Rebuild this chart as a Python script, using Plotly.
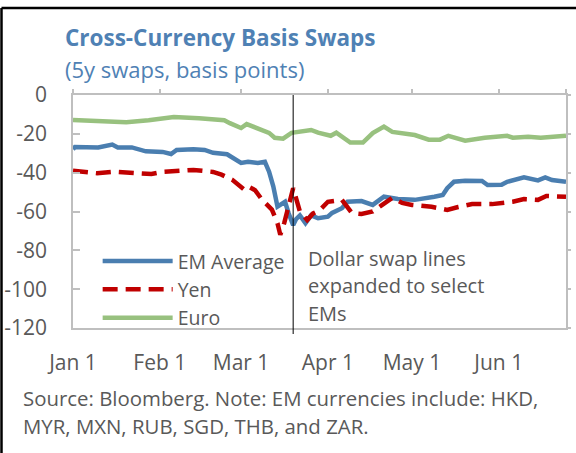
import plotly.graph_objects as go
import pandas as pd

# ---- data (days since 2020-01-01, basis points) ----
START = "2020-01-01"

em_day = [0, 0.7, 9, 14, 16, 21, 26, 32, 35, 37, 43, 47, 50, 55, 60, 62.5, 66, 68.5, 70, 71.5,
          73, 74.6, 75.7, 77, 78.6, 79.6, 81, 83, 85, 87.5, 91, 92.5, 96, 98, 103, 107, 111,
          116, 122, 129, 132, 133.6, 136, 140, 146, 148, 153, 155, 161, 166, 168.6, 171, 176]
em_val = [-28, -26.8, -27, -25.5, -27, -27, -29, -29.3, -30.4, -28.3, -28, -28.3, -29.8, -30.5,
          -35, -34.4, -35, -34.4, -39.5, -47, -57.5, -55.8, -55, -61, -67, -64, -62, -66, -62,
          -63.5, -62.7, -60.7, -58.3, -55, -54.6, -56.6, -52.4, -53.6, -54, -52.4, -51.5, -48,
          -44.7, -44.2, -44.3, -46.4, -46.2, -44.7, -42.4, -44, -42.4, -43.8, -44.7]

yen_day = [0, 4, 8.6, 15, 23, 28, 32, 37.5, 43, 50, 53, 57, 60, 61.4, 63, 65, 67.5, 69.6, 71,
           73, 74, 75.4, 76.8, 78.6, 79.6, 81, 83.6, 85.7, 88, 91, 96, 98, 99.6, 103, 107, 110,
           114, 117.5, 121, 128, 133.6, 137.5, 142.5, 149.6, 153, 157, 161, 166, 169, 176]
yen_val = [-39, -39.5, -40.3, -39.5, -40, -40.7, -39.6, -39, -38.6, -39.6, -41, -43.8, -47, -49,
           -47.5, -49, -54, -56.6, -59, -66, -72, -66, -57.6, -48, -53, -60, -64.4, -61, -59.4,
           -55, -54, -57.6, -60.8, -61.3, -60, -57, -53, -55.6, -56.6, -57.6, -59.2, -57.7,
           -56.2, -56.2, -55.6, -55, -53.6, -54, -52, -52.4]

euro_day = [0, 9, 19, 27, 36, 45, 54, 56, 60, 62, 67, 70, 72, 75, 78, 81, 85, 87.5, 92, 94, 96,
            99, 103.5, 107, 111, 114, 122, 127, 131, 134, 140, 147, 155, 157, 162.5, 167, 176]
euro_val = [-12.9, -13.4, -14, -13, -11.3, -12, -13, -14.5, -17, -15, -18, -19.5, -22, -22.5,
            -19.5, -19, -18, -19.4, -21, -19.4, -21.5, -24.5, -24.5, -19.6, -16.3, -19, -20.6,
            -23, -23, -21, -23.5, -22, -21, -22, -21.5, -22, -21]

month_ticks = ["2020-01-01", "2020-02-01", "2020-03-01", "2020-04-01", "2020-05-01", "2020-06-01"]
month_labels = ["Jan 1", "Feb 1", "Mar 1", "Apr 1", "May 1", "Jun 1"]
y_ticks = [0, -20, -40, -60, -80, -100, -120]
y_labels = ["0", "-20", "-40", "-60", "-80", "-100", "-120"]
range_end_day = 176
swap_line_day = 78.6

title_text = "<b>Cross-Currency Basis Swaps</b>"
subtitle_text = "(5y swaps, basis points)"
note_lines = ["Dollar swap lines", "expanded to select", "EMs"]
source_lines = ["Source: Bloomberg. Note: EM currencies include: HKD,",
                "MYR, MXN, RUB, SGD, THB, and ZAR."]

# ---- helpers ----
start = pd.Timestamp(START)
def to_dates(days):
    return [start + pd.Timedelta(days=d) for d in days]

FONT = "Open Sans"
GRAY = "#595959"
AXIS = "#BFBFBF"
BLUE_T = "#4F81B4"

fig = go.Figure()
fig.add_trace(go.Scatter(x=to_dates(em_day), y=em_val, name="EM Average", mode="lines",
                         line=dict(color="#4A7EB0", width=4.5), legendgroup="a"))
fig.add_trace(go.Scatter(x=to_dates(yen_day), y=yen_val, name="Yen", mode="lines",
                         line=dict(color="#C00000", width=4.5, dash="15px,8px"), legendgroup="b"))
fig.add_trace(go.Scatter(x=to_dates(euro_day), y=euro_val, name="Euro", mode="lines",
                         line=dict(color="#98C17F", width=4.5), legendgroup="c"))
# helper traces for mirrored tick axes
fig.add_trace(go.Scatter(x=[start], y=[None], xaxis="x2", yaxis="y", showlegend=False,
                         hoverinfo="skip"))
fig.add_trace(go.Scatter(x=[start], y=[None], xaxis="x", yaxis="y2", showlegend=False,
                         hoverinfo="skip"))

x_range = [start, start + pd.Timedelta(days=range_end_day)]

fig.update_layout(
    width=576, height=453,
    margin=dict(l=73, r=10, t=95, b=125, autoexpand=False),
    paper_bgcolor="white", plot_bgcolor="white",
    font=dict(family=FONT, color=GRAY, size=20),
    showlegend=True,
    legend=dict(x=0.05, y=0.37, xanchor="left", yanchor="top",
                bgcolor="rgba(0,0,0,0)",
                font=dict(size=19.5, color=GRAY), itemwidth=70, traceorder="grouped",
                tracegroupgap=0),
    xaxis=dict(type="date", range=x_range, tickvals=month_ticks, ticktext=month_labels,
               ticks="", showline=True, linecolor=AXIS, linewidth=1.5, mirror=True,
               showgrid=False, zeroline=False, ticklabelstandoff=15, automargin=False,
               tickfont=dict(size=21, color=GRAY)),
    xaxis2=dict(type="date", overlaying="x", side="top", matches="x", anchor="y",
                tickvals=month_ticks + [x_range[1]], ticks="outside", ticklen=5,
                tickcolor=AXIS, tickwidth=1.5, showticklabels=False, showline=False,
                showgrid=False, zeroline=False, automargin=False),
    yaxis=dict(range=[-120, 0], tickvals=y_ticks, ticktext=y_labels, ticks="inside",
               ticklen=7, tickcolor=AXIS, ticklabeloverflow="allow",
               tickwidth=1.5, showline=True, linecolor=AXIS, linewidth=1.5, mirror=True,
               showgrid=False, zeroline=False, ticklabelstandoff=20, automargin=False,
               tickfont=dict(size=21, color=GRAY)),
    yaxis2=dict(overlaying="y", side="right", matches="y", anchor="x", tickvals=y_ticks,
                ticks="outside", ticklen=4, tickcolor=AXIS, tickwidth=1.5,
                showticklabels=False, showline=False, showgrid=False, zeroline=False,
                automargin=False),
)

def px_x(p):
    return (p - 73) / 493
def px_y(p):
    return (328 - p) / 233

ann = []
ann.append(dict(text=title_text, x=px_x(63), y=px_y(38), xref="paper", yref="paper",
                xanchor="left", yanchor="middle", showarrow=False,
                font=dict(size=22.5, color=BLUE_T, family=FONT)))
ann.append(dict(text=subtitle_text, x=px_x(63), y=px_y(69), xref="paper", yref="paper",
                xanchor="left", yanchor="middle", showarrow=False,
                font=dict(size=22, color=BLUE_T, family=FONT)))
for i, t in enumerate(note_lines):
    ann.append(dict(text=t, x=px_x(306), y=px_y(258 + 27.5 * i), xref="paper", yref="paper",
                    xanchor="left", yanchor="middle", showarrow=False,
                    font=dict(size=20, color=GRAY)))
for i, t in enumerate(source_lines):
    ann.append(dict(text=t, x=px_x(21), y=px_y(398 + 28 * i), xref="paper", yref="paper",
                    xanchor="left", yanchor="middle", showarrow=False,
                    font=dict(size=20.4, color=GRAY)))
fig.update_layout(annotations=ann)

swap_date = start + pd.Timedelta(days=swap_line_day)
fig.add_shape(type="line", xref="x", yref="paper", x0=swap_date, x1=swap_date,
              y0=px_y(334), y1=1, line=dict(color="black", width=1))
# outer frame (left and top edges)
fig.add_shape(type="line", xref="paper", yref="paper", x0=px_x(1.5), x1=px_x(1.5),
              y0=px_y(8), y1=px_y(470), line=dict(color="black", width=2.5))
fig.add_shape(type="line", xref="paper", yref="paper", x0=px_x(1.5), x1=px_x(590),
              y0=px_y(8), y1=px_y(8), line=dict(color="black", width=2.5))

fig.write_html("out.html", config={"displayModeBar": False},
               post_script="document.body.style.margin='0';document.body.style.overflow='hidden';")
